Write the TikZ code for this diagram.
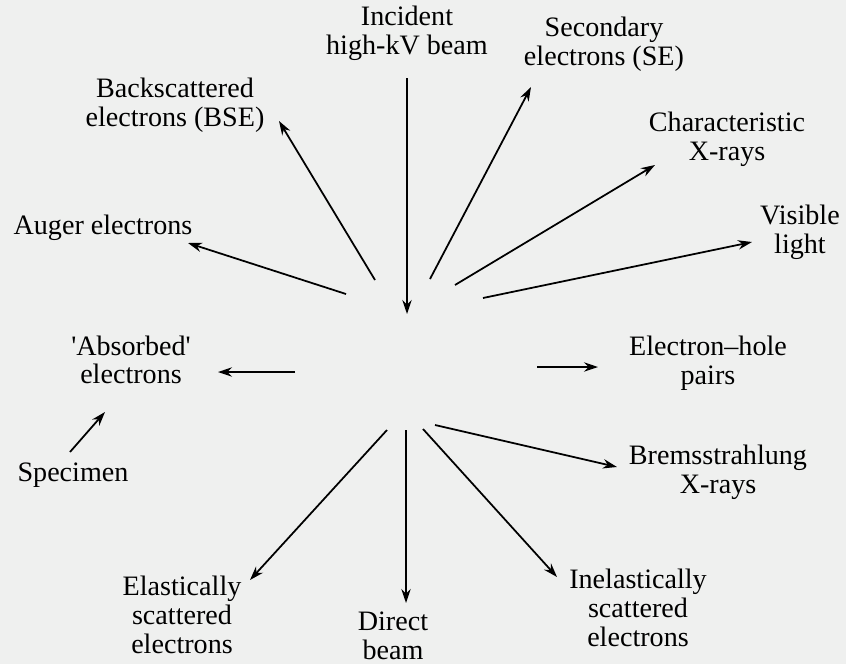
\documentclass[tikz,border=0pt]{standalone}
\usepackage{fontspec}
\setmainfont{Liberation Serif}
\usetikzlibrary{arrows.meta}

\definecolor{paper}{RGB}{239,240,239}
\tikzset{
  lbl/.style={align=center,inner sep=0pt,font=\fontsize{24}{24.5}\selectfont},
  ray/.style={line width=1.5pt,-{Stealth[length=12pt,width=8pt]}}
}

\begin{document}
\begin{tikzpicture}[x=0.03cm,y=-0.03cm]
    \fill[paper] (0,0) rectangle (846,664);
    \useasboundingbox (0,0) rectangle (846,664);

    % labels round the specimen
    \node[lbl] (beam) at (407,33)  {Incident\\high-kV beam};
    \node[lbl] (se)   at (604,44)  {Secondary\\electrons (SE)};
    \node[lbl] (cxr)  at (727,139) {Characteristic\\X-rays};
    \node[lbl] (vis)  at (800,232) {Visible\\light};
    \node[lbl] (bse)  at (175,105) {Backscattered\\electrons (BSE)};
    \node[lbl] (aug)  at (103,228) {Auger electrons};
    \node[lbl] (abs)  at (131,360) {\textquotesingle Absorbed\textquotesingle\\electrons};
    \node[lbl] (spec) at (73,475)  {Specimen};
    \node[lbl] (ela)  at (182,615) {Elastically\\scattered\\electrons};
    \node[lbl] (dir)  at (393,636) {Direct\\beam};
    \node[lbl] (ehp)  at (708,363) {Electron--hole\\pairs};
    \node[lbl] (brem) at (718,472) {Bremsstrahlung\\X-rays};
    \node[lbl] (inel) at (638,608) {Inelastically\\scattered\\electrons};

    % arrow ends
    \coordinate (beam0) at (407,78);  \coordinate (beam1) at (407,314);
    \coordinate (se0)   at (430,279); \coordinate (se1)   at (531,87);
    \coordinate (cxr0)  at (455,285); \coordinate (cxr1)  at (655,165);
    \coordinate (vis0)  at (483,298); \coordinate (vis1)  at (752,242);
    \coordinate (bse0)  at (375,280); \coordinate (bse1)  at (279,121);
    \coordinate (aug0)  at (346,294); \coordinate (aug1)  at (188,243);
    \coordinate (abs0)  at (295,372); \coordinate (abs1)  at (218,372);
    \coordinate (spec0) at (70,452);  \coordinate (spec1) at (105,412);
    \coordinate (ela0)  at (387,430); \coordinate (ela1)  at (250,580);
    \coordinate (dir0)  at (406,430); \coordinate (dir1)  at (406,603);
    \coordinate (ehp0)  at (537,367); \coordinate (ehp1)  at (598,367);
    \coordinate (brem0) at (435,425); \coordinate (brem1) at (617,467);
    \coordinate (inel0) at (423,429); \coordinate (inel1) at (557,577);

    \draw[ray] (beam0) -- (beam1);
    \draw[ray] (se0) -- (se1);
    \draw[ray] (cxr0) -- (cxr1);
    \draw[ray] (vis0) -- (vis1);
    \draw[ray] (bse0) -- (bse1);
    \draw[ray] (aug0) -- (aug1);
    \draw[ray] (abs0) -- (abs1);
    \draw[ray] (spec0) -- (spec1);
    \draw[ray] (ela0) -- (ela1);
    \draw[ray] (dir0) -- (dir1);
    \draw[ray] (ehp0) -- (ehp1);
    \draw[ray] (brem0) -- (brem1);
    \draw[ray] (inel0) -- (inel1);
\end{tikzpicture}
\end{document}
